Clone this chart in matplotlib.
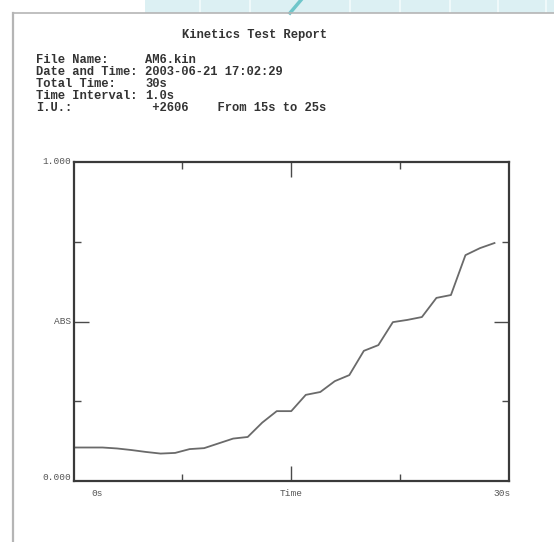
import matplotlib
matplotlib.use("Agg")
import matplotlib.pyplot as plt
from matplotlib.lines import Line2D
from matplotlib.patches import Rectangle

# Absorbance readings, one per second (time interval 1.0 s)
time_s = list(range(30))
absorbance = [0.105, 0.105, 0.105, 0.102, 0.097, 0.091, 0.086, 0.088, 0.100, 0.103,
              0.118, 0.133, 0.138, 0.183, 0.219, 0.219, 0.270, 0.279, 0.313, 0.332,
              0.408, 0.426, 0.498, 0.505, 0.514, 0.574, 0.583, 0.708, 0.730, 0.746]

report_title = "Kinetics Test Report"
header_keys = ["File Name:", "Date and Time:", "Total Time:", "Time Interval:", "I.U.:"]
header_vals = ["AM6.kin", "2003-06-21 17:02:29", "30s", "1.0s", " +2606    From 15s to 25s"]
x_labels = ["0s", "Time", "30s"]
y_labels = ["0.000", "ABS", "1.000"]

W, H = 554, 542
fig = plt.figure(figsize=(W / 100, H / 100), dpi=100)
fig.patch.set_facecolor("white")

def fx(px):
    return px / W

def fy(py):
    return 1 - py / H

# backdrop strip above the sheet
fig.add_artist(Rectangle((fx(145), fy(13)), 1 - fx(145), 1 - fy(13),
                         transform=fig.transFigure, facecolor="#dcf0f3",
                         edgecolor="none", zorder=0))
for gx in [200, 250, 350, 400, 450, 498, 546]:
    fig.add_artist(Line2D([fx(gx), fx(gx)], [fy(13), 1], transform=fig.transFigure,
                          color="#f4fbfc", lw=1.2, zorder=1))
fig.add_artist(Line2D([fx(290), fx(301)], [fy(13), 1], transform=fig.transFigure,
                      color="#6fc6ca", lw=2.5, zorder=1))

# sheet edges
fig.add_artist(Line2D([fx(13), 1], [fy(13), fy(13)], transform=fig.transFigure,
                      color="#b5b5b5", lw=1.2, zorder=2))
fig.add_artist(Line2D([fx(13), fx(13)], [0, fy(13)], transform=fig.transFigure,
                      color="#b5b5b5", lw=1.6, zorder=2))

mono = ["Liberation Mono", "DejaVu Sans Mono"]
txt_color = "#333333"

fig.text(fx(254), fy(35), report_title, family=mono, fontsize=8.7, weight="bold",
         color=txt_color, ha="center", va="center")
row_y = [60, 72, 84, 96, 108]
for key, val, ry in zip(header_keys, header_vals, row_y):
    fig.text(fx(36), fy(ry), key, family=mono, fontsize=8.7, weight="bold",
             color=txt_color, ha="left", va="center")
    fig.text(fx(145), fy(ry), val, family=mono, fontsize=8.7, weight="bold",
             color=txt_color, ha="left", va="center")

# plot area
ax = fig.add_axes([fx(73.5), fy(481), fx(509) - fx(73.5), fy(162) - fy(481)])
ax.plot(time_s, absorbance, color="#6a6a6a", lw=1.3)
ax.set_xlim(0, 30)
ax.set_ylim(0, 1)

for sp in ax.spines.values():
    sp.set_color("#3a3a3a")
    sp.set_linewidth(1.6)

ax.set_xticks([15])
ax.set_xticks([7.5, 22.5], minor=True)
ax.set_yticks([0.5])
ax.set_yticks([0.25, 0.75], minor=True)
ax.tick_params(which="both", direction="in", top=True, right=True,
               color="#4a4a4a", width=1.0, labelbottom=False, labelleft=False)
ax.tick_params(which="major", length=11)
ax.tick_params(which="minor", length=5)

lab_kw = dict(family=mono, fontsize=6.8, color="#555555")
ax.text(1.6, -0.025, x_labels[0], ha="center", va="top", **lab_kw)
ax.text(15, -0.025, x_labels[1], ha="center", va="top", **lab_kw)
ax.text(29.5, -0.025, x_labels[2], ha="center", va="top", **lab_kw)
ax.text(-0.006, 0.012, y_labels[0], ha="right", va="center",
        transform=ax.get_yaxis_transform(), **lab_kw)
ax.text(-0.006, 0.5, y_labels[1], ha="right", va="center",
        transform=ax.get_yaxis_transform(), **lab_kw)
ax.text(-0.006, 1.0, y_labels[2], ha="right", va="center",
        transform=ax.get_yaxis_transform(), **lab_kw)

fig.savefig("out.png", dpi=100)
